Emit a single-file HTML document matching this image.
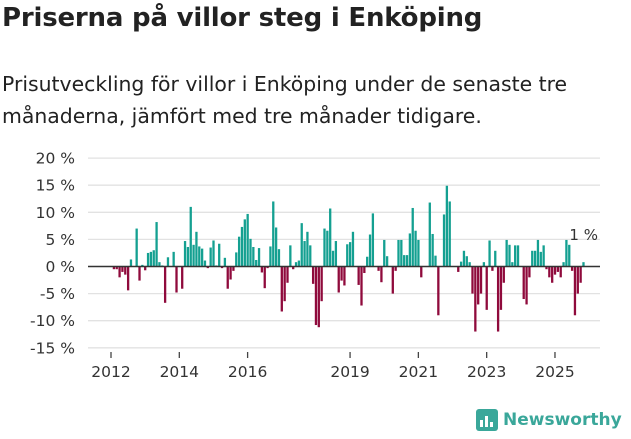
<!DOCTYPE html>
<html><head><meta charset="utf-8">
<style>
body{margin:0;width:631px;height:439px;background:#fff;font-family:"Liberation Sans","DejaVu Sans",sans-serif;overflow:hidden;position:relative;color:#222}
#title{position:absolute;left:2px;top:3px;font-size:26px;font-weight:bold;font-family:"DejaVu Sans","Liberation Sans",sans-serif;letter-spacing:-0.2px}
#sub{position:absolute;left:2px;top:68px;font-size:20.4px;line-height:32px;font-family:"DejaVu Sans","Liberation Sans",sans-serif;color:#222}
svg{position:absolute;left:0;top:0}
</style></head><body>
<div id="title">Priserna på villor steg i Enköping</div>
<div id="sub">Prisutveckling för villor i Enköping under de senaste tre<br>månaderna, jämfört med tre månader tidigare.</div>
<svg id="chart" width="631" height="439"></svg>
<script>
const yTicks=[20,15,10,5,0,-5,-10,-15];
const yearLabels=[2012,2014,2016,2019,2021,2023,2025];
// monthly values starting Jan 2012 (index 0)
const values=[0,-0.5,-0.5,-2,-1,-1.5,-4.4,1.3,0,7,-2.6,0.3,-0.7,2.5,2.7,3,8.2,0.8,0.2,-6.7,1.7,0,2.7,-4.8,0,-4.1,4.7,3.6,11,4,6.4,3.7,3.3,1.1,-0.3,3.5,4.8,0.2,4.2,-0.3,1.6,-4.1,-2.4,-0.8,2.6,5.5,7.3,8.7,9.7,5.1,3.6,1.2,3.4,-1.1,-4,-0.3,3.7,12,7.2,3.2,-8.3,-6.4,-3,3.9,-0.5,0.8,1.1,8,4.7,6.4,3.9,-3.2,-10.8,-11.2,-6.4,7,6.6,10.7,2.9,4.7,-4.8,-2.6,-3.5,4.1,4.5,6.4,0,-3.4,-7.2,-1.2,1.8,5.9,9.8,0,-0.8,-2.9,4.9,1.9,0,-5,-0.8,4.9,4.9,2.1,2.1,6.1,10.8,6.6,4.9,-2,0,0,11.8,6,2,-9,0,9.6,14.9,12,0,0,-1,0.9,2.9,1.9,0.8,-5,-12,-7,-5,0.8,-8,4.8,-0.8,2.9,-12,-8,-3,4.9,4,0.8,3.9,3.9,0,-6,-7,-2,2.9,2.9,4.9,2.7,3.9,-0.5,-2,-3,-1.5,-1,-2,0.8,4.9,4,-0.8,-9,-5,-3,0.8];
const lastLabel="1 %";
const svg=document.getElementById('chart');const NS='http://www.w3.org/2000/svg';
const x0=111,pxMonth=2.846,y0=266.5,pxPct=5.42;
function xs(m){return x0+m*pxMonth;}
function ys(v){return y0-v*pxPct;}
function mk(t,a){const e=document.createElementNS(NS,t);for(const k in a)e.setAttribute(k,a[k]);svg.appendChild(e);return e;}
yTicks.forEach(v=>{
 const l=mk('line',{x1:88,x2:600,y1:ys(v),y2:ys(v),stroke:'#e2e2e2','stroke-width':1.3});
 
 
 const t=mk('text',{x:75,y:ys(v)+5.5,'text-anchor':'end','font-size':15.5,fill:'#333','font-family':'DejaVu Sans, Liberation Sans, sans-serif'});
 t.textContent=v+' %';
 
 
});
values.forEach((v,i)=>{
 if(v===0)return;
 const r=mk('rect',{x:xs(i)-1.1,width:2.3,y:v>0?ys(v):y0,height:Math.abs(v)*pxPct,fill:v>0?'#14a091':'#8f0a3c'});
 
 
});
const z=mk('line',{x1:88,x2:600,y1:y0,y2:y0,stroke:'#333','stroke-width':1.5});


yearLabels.forEach(yr=>{
 const x=xs((yr-2012)*12);
 const tk=mk('line',{x1:x,x2:x,y1:352,y2:358,stroke:'#444','stroke-width':1.3});
 
 
 const t=mk('text',{x:x,y:377,'text-anchor':'middle','font-size':15.5,fill:'#333','font-family':'DejaVu Sans, Liberation Sans, sans-serif'});
 t.textContent=yr;
 
 
});
const li=values.length-1;
const lb=mk('text',{x:xs(li)-14,y:ys(values[li])-22,'font-size':15,fill:'#333','font-family':'DejaVu Sans, Liberation Sans, sans-serif'});
lb.textContent=lastLabel;


</script>
<div style="position:absolute;left:476px;top:409px;display:flex;align-items:center">
 <div style="width:22px;height:22px;background:#3aa79a;border-radius:3px;position:relative">
  <div style="position:absolute;left:4px;bottom:4px;width:3px;height:7px;background:#fff"></div>
  <div style="position:absolute;left:9px;bottom:4px;width:3px;height:11px;background:#fff"></div>
  <div style="position:absolute;left:14px;bottom:4px;width:3px;height:5px;background:#fff"></div>
 </div>
 <span style="margin-left:5px;font-size:17px;font-weight:bold;color:#3aa79a;font-family:'DejaVu Sans','Liberation Sans',sans-serif">Newsworthy</span>
</div>
</body></html>
